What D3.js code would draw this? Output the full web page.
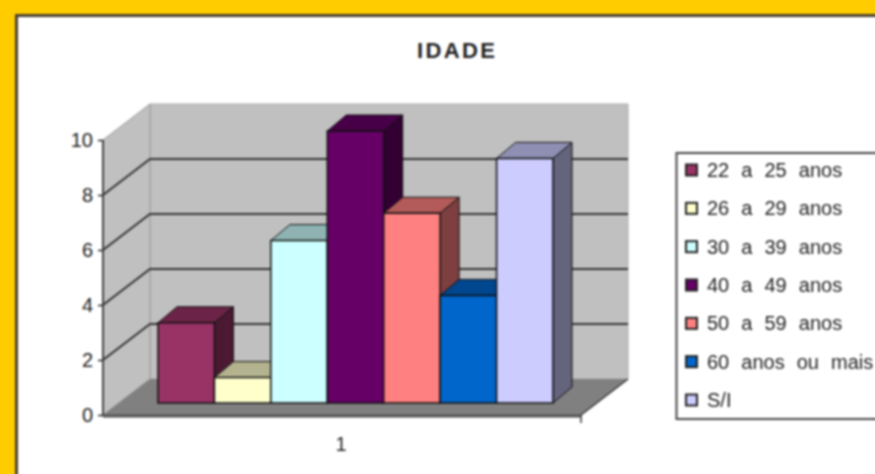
<!DOCTYPE html>
<html>
<head>
<meta charset="utf-8">
<style>
  html, body { margin: 0; padding: 0; background: #fff; overflow: hidden; }
  text { font-family: "Liberation Sans", Arial, sans-serif; fill: #222; }
  #soft { filter: blur(0.9px); }
</style>
<script src="https://cdn.jsdelivr.net/npm/d3@7"></script>
</head>
<body>
<svg id="chart" width="875" height="474"></svg>
<script>
const categories = ['22 a 25 anos', '26 a 29 anos', '30 a 39 anos', '40 a 49 anos', '50 a 59 anos', '60 anos ou mais', 'S/I']
const values = [3, 1, 6, 10, 7, 4, 9]
const colors = ['#993366', '#ffffcc', '#ccffff', '#660066', '#ff8080', '#0066cc', '#ccccff']
const yTicks = [0, 2, 4, 6, 8, 10]
const xLabel = '1'
const title = 'IDADE'

const svg = d3.select('#chart')

// the picture is a blurry screenshot, so everything goes in one soft group
const g = svg.append('g').attr('id', 'soft')

// frame
g.append('rect').attr('x', -5).attr('y', -5).attr('width', 890).attr('height', 490).attr('fill', '#ffcc00')
g.append('rect').attr('x', 16.5).attr('y', 15.5).attr('width', 870).attr('height', 470)
  .attr('fill', '#fff').attr('stroke', '#4a4030').attr('stroke-width', 3)

g.append('text').attr('x', 417).attr('y', 58)
  .attr('font-size', 22).attr('font-weight', 'bold')
  .attr('textLength', 78).text(title)

// axis scale for the front edge, the back wall is the same thing shifted by depth
const depthX = 47
const depthY = -36
const y = d3.scaleLinear().domain([0, 10]).range([415, 140])
const left = 103
const right = 581

const poly = (pts, fill, stroke) => g.append('polygon')
  .attr('points', pts.map(p => p.join(',')).join(' '))
  .attr('fill', fill).attr('stroke', stroke || 'none')

// walls and floor
poly([[left + depthX, y(10) + depthY], [right + depthX, y(10) + depthY], [right + depthX, y(0) + depthY], [left + depthX, y(0) + depthY]], '#c0c0c0', '#aaa')
poly([[left, y(10)], [left + depthX, y(10) + depthY], [left + depthX, y(0) + depthY], [left, y(0)]], '#c0c0c0', '#999')
poly([[left, y(0)], [right, y(0)], [right + depthX, y(0) + depthY], [left + depthX, y(0) + depthY]], '#808080')

// gridlines
yTicks.filter(t => t > 0 && t < 10).forEach(t => {
  g.append('path')
    .attr('d', d3.line()([[left, y(t)], [left + depthX, y(t) + depthY], [right + depthX, y(t) + depthY]]))
    .attr('fill', 'none').attr('stroke', '#333').attr('stroke-width', 2)
})

// front axis
g.append('path').attr('d', d3.line()([[left, y(10)], [left, y(0)]]))
  .attr('fill', 'none').attr('stroke', '#444').attr('stroke-width', 2)
g.append('path').attr('d', d3.line()([[left, y(0) + 1], [right, y(0) + 1]]))
  .attr('fill', 'none').attr('stroke', '#555').attr('stroke-width', 3)
g.append('path').attr('d', d3.line()([[right, y(0) + 8], [right, y(0)], [right + depthX, y(0) + depthY]]))
  .attr('fill', 'none').attr('stroke', '#333').attr('stroke-width', 1.5)

const yAxis = g.append('g').attr('transform', `translate(${left},0)`)
  .call(d3.axisLeft(y).tickValues(yTicks).tickSize(5).tickPadding(5))
yAxis.select('.domain').remove()
yAxis.selectAll('line').attr('stroke', '#222').attr('stroke-width', 1.5)
yAxis.selectAll('text').attr('font-size', 20)

g.append('text').attr('x', 341).attr('y', 451).attr('text-anchor', 'middle')
  .attr('font-size', 20).text(xLabel)

// bars, front face sits in from the floor edge
const barBase = 403
const barX = d3.scaleBand().domain(categories).range([158, 553])
const barY = d3.scaleLinear().domain([0, 10]).range([405, 131])
const barDepthX = 19
const barDepthY = -16
const shade = (c, k) => d3.rgb(c).darker(k).formatHex()

categories.forEach((cat, i) => {
  const x0 = barX(cat)
  const x1 = x0 + barX.bandwidth()
  const top = barY(values[i])
  const edge = '#111'
  poly([[x1, barBase], [x1 + barDepthX, barBase + barDepthY], [x1 + barDepthX, top + barDepthY], [x1, top]], shade(colors[i], 2), edge)
  poly([[x0, top], [x0 + barDepthX, top + barDepthY], [x1 + barDepthX, top + barDepthY], [x1, top]], shade(colors[i], 1), edge)
  poly([[x0, barBase], [x0, top], [x1, top], [x1, barBase]], colors[i], edge).attr('stroke-width', 1.5)
})

// legend
const legendY = d3.scalePoint().domain(categories).range([170, 400])
g.append('rect').attr('x', 676.5).attr('y', 153).attr('width', 220).attr('height', 266)
  .attr('fill', '#fff').attr('stroke', '#444').attr('stroke-width', 2)
categories.forEach((cat, i) => {
  g.append('rect').attr('x', 686).attr('y', legendY(cat) - 5.5).attr('width', 11).attr('height', 11)
    .attr('fill', colors[i]).attr('stroke', '#222').attr('stroke-width', 2)
  g.append('text').attr('x', 707).attr('y', legendY(cat) + 7).attr('font-size', 20)
    .attr('word-spacing', 6.5).text(cat)
})
</script>
</body>
</html>
